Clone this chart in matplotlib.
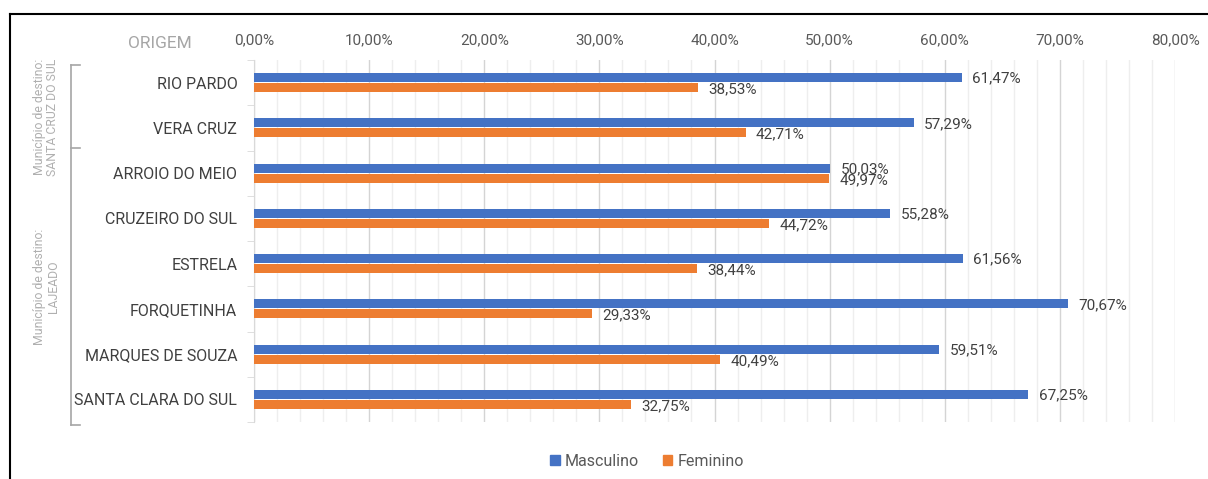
import matplotlib
matplotlib.use("Agg")
import matplotlib.pyplot as plt
import numpy as np
from matplotlib.lines import Line2D
from matplotlib.patches import Patch

plt.rcParams['font.family'] = ['Roboto', 'DejaVu Sans']

# data
municipios = ['RIO PARDO', 'VERA CRUZ', 'ARROIO DO MEIO', 'CRUZEIRO DO SUL',
              'ESTRELA', 'FORQUETINHA', 'MARQUES DE SOUZA', 'SANTA CLARA DO SUL']
masculino = [61.47, 57.29, 50.03, 55.28, 61.56, 70.67, 59.51, 67.25]
feminino = [38.53, 42.71, 49.97, 44.72, 38.44, 29.33, 40.49, 32.75]
x_ticks = [0, 10, 20, 30, 40, 50, 60, 70, 80]

azul = '#4472C4'
laranja = '#ED7D31'
texto = '#404040'

fig = plt.figure(figsize=(12.08, 4.79), dpi=100)
ax = fig.add_axes([254 / 1208, 1 - 422 / 479, 921 / 1208, 362 / 479])

y = np.arange(len(municipios))
h = 0.2
ax.barh(y - 0.11, masculino, height=h, color=azul, zorder=3)
ax.barh(y + 0.11, feminino, height=h, color=laranja, zorder=3)

for i in range(len(municipios)):
	ax.text(masculino[i] + 0.9, y[i] - 0.09, f"{masculino[i]:.2f}%".replace('.', ','),
			va='center', ha='left', fontsize=11, color=texto, zorder=4)
	ax.text(feminino[i] + 0.9, y[i] + 0.15, f"{feminino[i]:.2f}%".replace('.', ','),
			va='center', ha='left', fontsize=11, color=texto, zorder=4)

ax.set_xlim(0, 80)
ax.set_ylim(len(municipios) - 0.5, -0.5)
ax.set_xticks(x_ticks)
ax.set_xticklabels([f"{v:.2f}%".replace('.', ',') for v in x_ticks])
ax.set_xticks(np.arange(0, 81, 2), minor=True)
ax.xaxis.tick_top()
ax.tick_params(axis='x', which='both', length=0, pad=9.5, labelsize=11, labelcolor='#595959')
ax.grid(axis='x', which='major', color='#d4d4d4', lw=1, zorder=0)
ax.grid(axis='x', which='minor', color='#eeeeee', lw=1, zorder=0)

ax.set_yticks(y)
ax.set_yticklabels(municipios)
ax.set_yticks(np.arange(-0.5, len(municipios)), minor=True)
ax.tick_params(axis='y', which='major', length=0, pad=12, labelsize=11.5, labelcolor=texto)
ax.tick_params(axis='y', which='minor', length=5, color='#d9d9d9', direction='out')

for s in ['top', 'right', 'bottom']:
	ax.spines[s].set_visible(False)
ax.spines['left'].set_color('#d9d9d9')

# titulo do eixo
fig.text(160 / 1208, 1 - 43 / 479, 'ORIGEM', ha='center', va='center',
		 fontsize=12.5, color='#a6a6a6')

# colchetes de agrupamento
cinza = '#a6a6a6'
bx = 71 / 1208
pts = [(1 - 65 / 479), (1 - 148 / 479), (1 - 425 / 479)]
fig.add_artist(Line2D([bx, bx], [pts[0], pts[2]], color=cinza, lw=1.2))
for py in pts:
	fig.add_artist(Line2D([bx, 80 / 1208], [py, py], color=cinza, lw=1.2))

fig.text(46 / 1208, 1 - 117 / 479, 'Município de destino:\nSANTA CRUZ DO SUL', rotation=90,
		 ha='center', va='center', fontsize=8.8, color='#b0b0b0', linespacing=1.1)
fig.text(46 / 1208, 1 - 287 / 479, 'Município de destino:\nLAJEADO', rotation=90,
		 ha='center', va='center', fontsize=8.8, color='#b0b0b0', linespacing=1.1)

# moldura
fig.add_artist(Line2D([10 / 1208, 10 / 1208], [0, 1 - 14 / 479], color='black', lw=1.5))
fig.add_artist(Line2D([10 / 1208, 1], [1 - 14 / 479, 1 - 14 / 479], color='black', lw=1.5))

handles = [Patch(color=azul, label='Masculino'), Patch(color=laranja, label='Feminino')]
fig.legend(handles=handles, loc='center', bbox_to_anchor=(647 / 1208, 1 - 461 / 479), ncol=2,
		   frameon=False, fontsize=11.5, handlelength=0.6, handleheight=0.6, handletextpad=0.3,
		   columnspacing=1.5, labelcolor='#595959')

fig.savefig('out.png', dpi=100)
